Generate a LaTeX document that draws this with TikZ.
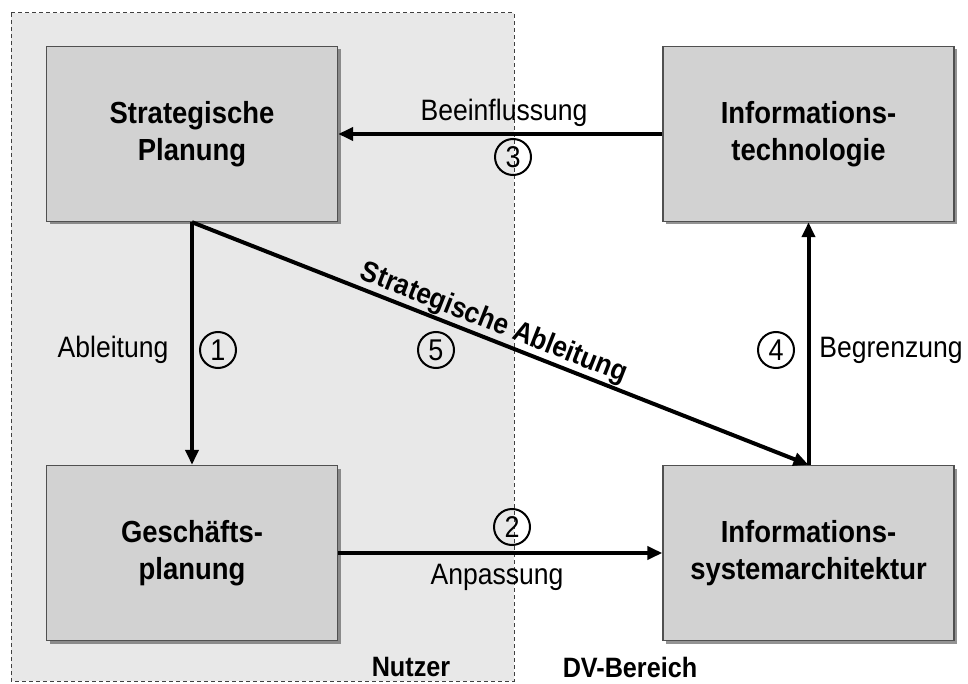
\documentclass[tikz,border=0pt]{standalone}
\usepackage{fontspec}
\setmainfont{Liberation Sans}[FakeStretch=0.9]
\usetikzlibrary{arrows.meta,shadows}
\definecolor{zonefill}{HTML}{E8E8E8}
\definecolor{boxfill}{HTML}{D2D2D2}
\definecolor{boxline}{HTML}{505050}
\tikzset{
  unit/.style={draw=boxline, line width=1.4pt, fill=boxfill,
    minimum width=291pt, minimum height=175pt, align=center,
    font=\bfseries\fontsize{30.5}{37.5}\selectfont,
    drop shadow={shadow xshift=3pt, shadow yshift=-3pt, fill=black!70, opacity=0.6}},
  flow/.style={line width=4pt, -{Triangle[length=15pt,width=13pt]}},
  lbl/.style={font=\fontsize{29.5}{32}\selectfont, inner sep=0pt},
  zonelbl/.style={font=\bfseries\fontsize{28}{30}\selectfont, inner sep=0pt},
  num/.style={draw, circle, line width=2pt, minimum size=36pt, inner sep=0pt,
    font=\fontsize{30}{30}\selectfont}
}
\begin{document}
\begin{tikzpicture}[x=1pt,y=-1pt]
\useasboundingbox (0,0) rectangle (968,684);
\fill[white] (0,0) rectangle (968,684);
% user zone
\draw[fill=zonefill, draw=black!75, line width=1pt, dash pattern=on 4pt off 3pt]
  (11,13) rectangle (514,681);

% units
\node[unit] (sp)  at (192,134)   {Strategische\\Planung};
\node[unit] (it)  at (808.5,134) {Informations-\\technologie};
\node[unit] (gp)  at (192,553)   {Geschäfts-\\planung};
\node[unit] (isa) at (808.5,553) {Informations-\\systemarchitektur};

% connectors
\draw[flow] (it.west) -- (sp.east);
\draw[flow] (sp.south) -- (gp.north);
\draw[flow] (gp.east) -- (isa.west);
\draw[flow] (isa.north) -- (it.south);
\draw[flow] (sp.south) -- node[pos=0.48, sloped, above=0.5pt, inner sep=0pt,
  font=\bfseries\fontsize{29}{30}\selectfont] (sal) {Strategische Ableitung} (isa.north);

% labels
\node[lbl] (l3) at (504,113) {Beeinflussung};
\node[num] (n3) at (513,157) {3};
\node[lbl] (l1) at (113,350) {Ableitung};
\node[num] (n1) at (218,350) {1};
\node[num] (n5) at (436,350) {5};
\node[num] (n4) at (776,350) {4};
\node[lbl] (l4) at (891,350) {Begrenzung};
\node[num] (n2) at (512,527) {2};
\node[lbl] (l2) at (497,577) {Anpassung};

% zone names
\node[zonelbl] (zn) at (411,667) {Nutzer};
\node[zonelbl] (zd) at (630,667) {DV-Bereich};
\end{tikzpicture}
\end{document}
